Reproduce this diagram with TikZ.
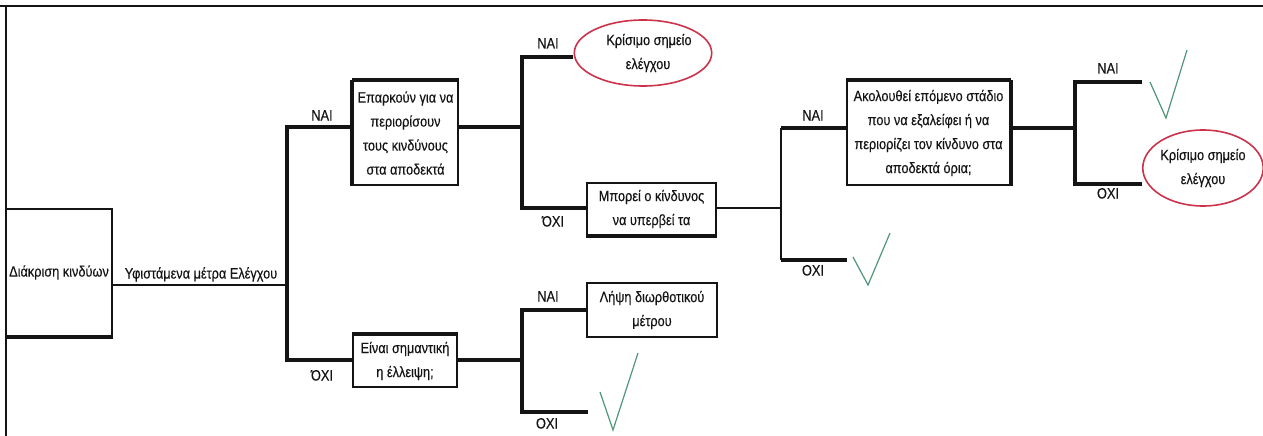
\documentclass[tikz,border=0pt]{standalone}
\usepackage{fontspec}
\setmainfont{Liberation Sans}[FakeStretch=0.85,FakeBold=0.3]
\usetikzlibrary{shapes.geometric}
\definecolor{chk}{RGB}{80,150,120}
\definecolor{ell}{RGB}{205,50,75}
\definecolor{ink}{RGB}{20,20,20}
\begin{document}
\begin{tikzpicture}[x=1pt,y=-1pt,
  every node/.style={font=\fontsize{15}{24}\selectfont, text=ink},
  boxnode/.style={draw=ink, line width=2pt, rectangle, align=center, inner sep=1pt},
  ellnode/.style={draw=ell, line width=1.6pt, ellipse, align=center, inner sep=0pt},
  lbl/.style={inner sep=0pt, text height=10pt, text depth=3pt},
  branch/.style={draw=ink, line width=3.4pt},
  thinline/.style={draw=ink, line width=1.7pt},
  vline/.style={draw=ink, line width=2.4pt},
  edge/.style={draw=ink, line width=3.4pt},
  check/.style={draw=chk, line width=1.2pt, line join=miter}]
\useasboundingbox (0,0) rectangle (1263,436);
% page border
\draw[line width=2.4pt, ink] (0,6) -- (1263,6);
\draw[line width=1.8pt, ink] (6,6) -- (6,436);

% boxes
\node[boxnode, minimum width=106pt, minimum height=127pt] (d) at (59,272.5) {Διάκριση κινδύων};
\node[boxnode, minimum width=105pt, minimum height=104pt] (e) at (405.5,133) {Επαρκούν για να\\περιορίσουν\\τους κινδύνους\\στα αποδεκτά};
\node[boxnode, minimum width=104pt, minimum height=52pt] (s) at (405,361) {Είναι σημαντική\\η έλλειψη;};
\node[boxnode, minimum width=129pt, minimum height=52pt] (m) at (651.5,209) {Μπορεί ο κίνδυνος\\να υπερβεί τα};
\node[boxnode, minimum width=130pt, minimum height=54pt] (L) at (652,310) {Λήψη διωρθοτικού\\μέτρου};
\node[boxnode, minimum width=163pt, minimum height=104pt] (a) at (928.5,133) {Ακολουθεί επόμενο στάδιο\\που να εξαλείφει ή να\\περιορίζει τον κίνδυνο στα\\αποδεκτά όρια;};
\node[ellnode, minimum width=112pt, minimum height=66pt] (k1) at (643,53) {\hspace*{12pt}Κρίσιμο σημείο\\\hspace*{10pt}ελέγχου};
\node[ellnode, minimum width=118pt, minimum height=76pt] (k2) at (1203,168) {Κρίσιμο σημείο\\ελέγχου};

% heavier box edges
\draw[edge] (d.south west) -- (d.south east);
\draw[edge] (e.north west) -- (e.north east);
\draw[edge] (e.north west) -- (e.south west);
\draw[edge] (s.north west) -- (s.north east);
\draw[edge] (m.south west) -- (m.south east);
\draw[edge] (a.north west) -- (a.north east);
\draw[edge] (a.north east) -- (a.south east);

% connectors
\coordinate (j1) at (287,285);
\coordinate (a1) at (287,127);
\coordinate (a2) at (287,360);
\draw[thinline] (d.east |- j1) -- (j1);
\draw[branch] (e.west |- a1) -- (a1) -- (a2) -- (s.west |- a2);

\coordinate (b0) at (522,127);
\coordinate (b1) at (522,57);
\coordinate (b2) at (522,208);
\draw[branch] (e.east |- b0) -- (b0);
\draw[branch] (k1.west |- b1) -- (b1) -- (b2) -- (m.west |- b2);

\coordinate (c0) at (781,208);
\coordinate (c1) at (781,128);
\coordinate (c2) at (781,260);
\coordinate (c2e) at (847,260);
\draw[thinline] (m.east |- c0) -- (c0);
\draw[vline] (c1) -- (c2);
\draw[branch] (c1) -- (a.west |- c1);
\draw[branch] (c2) -- (c2e);

\coordinate (d0) at (1075,128);
\coordinate (d1) at (1075,82);
\coordinate (d2) at (1075,184);
\coordinate (d1e) at (1142,82);
\coordinate (d2e) at (1142,184);
\draw[branch] (a.east |- d0) -- (d0);
\draw[branch] (d1e) -- (d1) -- (d2) -- (d2e);

\coordinate (f0) at (522,360);
\coordinate (f1) at (522,310);
\coordinate (f2) at (522,412);
\coordinate (f2e) at (588,412);
\draw[branch] (s.east |- f0) -- (f0);
\draw[branch] (L.west |- f1) -- (f1) -- (f2) -- (f2e);

% labels
\node[lbl] (t0) at (201,275) {Υφιστάμενα μέτρα Ελέγχου};
\node[lbl] (n1) at (322,117) {NAI};
\node[lbl] (o1) at (322,377) {ΌΧΙ};
\node[lbl] (n2) at (548,45) {NAI};
\node[lbl] (o2) at (553,223) {ΌΧΙ};
\node[lbl] (n3) at (548,298) {NAI};
\node[lbl] (o3) at (547,425) {OXI};
\node[lbl] (n4) at (813,117) {NAI};
\node[lbl] (o4) at (813,272) {OXI};
\node[lbl] (n5) at (1108,70) {NAI};
\node[lbl] (o5) at (1108,195) {OXI};

% check marks
\draw[check] (600,392) -- (613,430) -- (638,353);
\draw[check] (853,257) -- (868,285) -- (890,233);
\draw[check] (1150,82) -- (1166,118) -- (1187,50);
\end{tikzpicture}
\end{document}
